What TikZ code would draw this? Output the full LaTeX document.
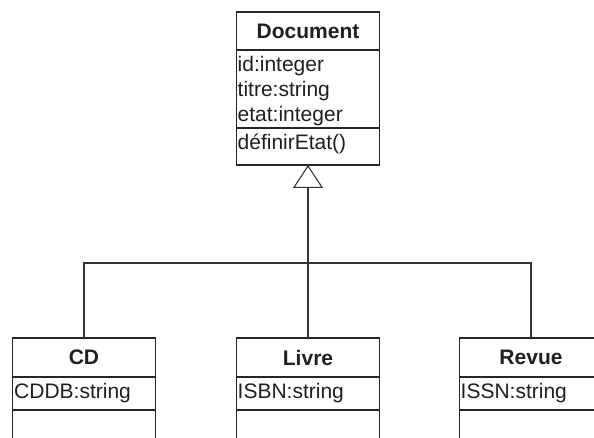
\documentclass[tikz,border=0pt]{standalone}
\usepackage{fontspec}
\setmainfont{Liberation Sans}
\usetikzlibrary{arrows.meta,positioning,calc}
\begin{document}
\begin{tikzpicture}[x=1pt,y=-1pt,
  box/.style={draw=black!85, line width=1.6pt, minimum width=143pt, inner sep=0pt, outer sep=0pt, text=black!88},
  hdr/.style={box, minimum height=38pt, font=\fontsize{21}{25}\selectfont\bfseries},
  sect/.style={box},
  lbl/.style={anchor=base west, inner sep=0pt, text=black!88, font=\fontsize{21}{25}\selectfont},
  link/.style={draw=black!80, line width=1.1pt},
  inherit/.style={link, -{Triangle[open, length=23pt, width=30pt, line width=1.1pt]}}]
  \useasboundingbox (0,0) rectangle (594,438);
  \clip (0,0) rectangle (594,438);

  % superclass
  \node[hdr] (doc) at (308,31) {Document};
  \node[sect, minimum height=78pt, below=0pt of doc] (docA) {};
  \node[sect, minimum height=37pt, below=0pt of docA] (docM) {};
  \node[lbl] (a1) at ($(docA.north west)+(1,21.5)$) {id:integer};
  \node[lbl] (a2) at ($(docA.north west)+(1,46.5)$) {titre:string};
  \node[lbl] (a3) at ($(docA.north west)+(1,71.5)$) {etat:integer};
  \node[lbl] (m1) at ($(docM.north west)+(1,21.5)$) {définirEtat()};

  % subclasses
  \node[hdr, minimum height=39pt] (cd) at (84,357.5) {CD};
  \node[sect, minimum height=33pt, below=0pt of cd] (cdA) {};
  \node[sect, minimum height=40pt, below=0pt of cdA] (cdM) {};
  \node[lbl] (cda1) at ($(cdA.north west)+(1.5,21.5)$) {CDDB:string};

  \node[hdr, minimum height=39pt] (livre) at (308,357.5) {Livre};
  \node[sect, minimum height=33pt, below=0pt of livre] (livreA) {};
  \node[sect, minimum height=40pt, below=0pt of livreA] (livreM) {};
  \node[lbl] (la1) at ($(livreA.north west)+(1,21.5)$) {ISBN:string};

  \node[hdr, minimum height=39pt] (revue) at (531,357.5) {Revue};
  \node[sect, minimum height=33pt, below=0pt of revue] (revueA) {};
  \node[sect, minimum height=40pt, below=0pt of revueA] (revueM) {};
  \node[lbl] (ra1) at ($(revueA.north west)+(1,21.5)$) {ISSN:string};

  % generalisation
  \coordinate (j) at (308,263);
  \draw[inherit] (livre.north) -- (docM.south);
  \draw[link] (cd.north) -- (cd.north |- j) -- (revue.north |- j) -- (revue.north);
\end{tikzpicture}
\end{document}
